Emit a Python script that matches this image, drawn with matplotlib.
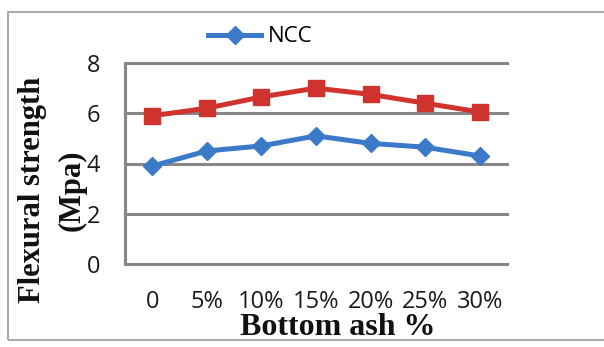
import matplotlib.pyplot as plt
from matplotlib.patches import Rectangle

# Flexural strength vs bottom ash replacement
ash = ['0', '5%', '10%', '15%', '20%', '25%', '30%']
ncc = [3.9, 4.5, 4.7, 5.1, 4.8, 4.65, 4.3]
second = [5.9, 6.2, 6.65, 7.0, 6.75, 6.4, 6.05]

W, H = 604, 347
fig = plt.figure(figsize=(W / 100, H / 100), dpi=100)
ax = fig.add_axes([125 / W, 1 - 264 / H, 382 / W, 201 / H])

# outer chart border
fig.patches.append(Rectangle((8 / W, 7 / H), 1.0, 328 / H, transform=fig.transFigure,
                             fill=False, edgecolor='#9a9a9a', linewidth=1.2))

x = range(len(ash))
ax.plot(x, second, color='#d0332e', linewidth=3.6, marker='s', markersize=11.5,
        label='_nolegend_')
ax.plot(x, ncc, color='#3b79c9', linewidth=3.6, marker='D', markersize=9,
        label='NCC')

ax.set_xlim(-0.5, 6.5)
ax.set_ylim(0, 8)
ax.set_yticks([0, 2, 4, 6, 8])
ax.set_xticks(list(x))
ax.set_xticklabels(ash)
ax.grid(axis='y', color='#878787', linewidth=2.2)
for gl in ax.get_ygridlines():
    gl.set_clip_on(False)
ax.set_axisbelow(True)
for side in ['top', 'right', 'bottom']:
    ax.spines[side].set_visible(False)
ax.spines['left'].set_color('#878787')
ax.spines['left'].set_linewidth(2.2)

tick_font = 'Open Sans'
ax.tick_params(length=0, labelsize=17, colors='#1a1a1a')
ax.tick_params(axis='x', pad=19)
ax.tick_params(axis='y', pad=18)
for lab in ax.get_xticklabels() + ax.get_yticklabels():
    lab.set_family(tick_font)

# axis titles placed in figure pixels
lbl = dict(family='Liberation Serif', fontweight='bold', color='#111111')
fig.text(338 / W, 1 - 335 / H, 'Bottom ash %', ha='center', va='baseline',
         fontsize=23, **lbl)
fig.text(33 / W, 1 - 190 / H, 'Flexural strength', rotation=90, ha='center',
         va='center', fontsize=22, **lbl)
fig.text(72 / W, 1 - 190 / H, '(Mpa)', rotation=90, ha='center', va='center',
         fontsize=22, **lbl)

fig.legend(loc='center left', bbox_to_anchor=(208 / W, 1 - 37 / H), frameon=False,
           prop={'family': tick_font, 'size': 16}, handlelength=2.4,
           handletextpad=0.3, borderpad=0, borderaxespad=0)

fig.savefig('out.png', dpi=100)
